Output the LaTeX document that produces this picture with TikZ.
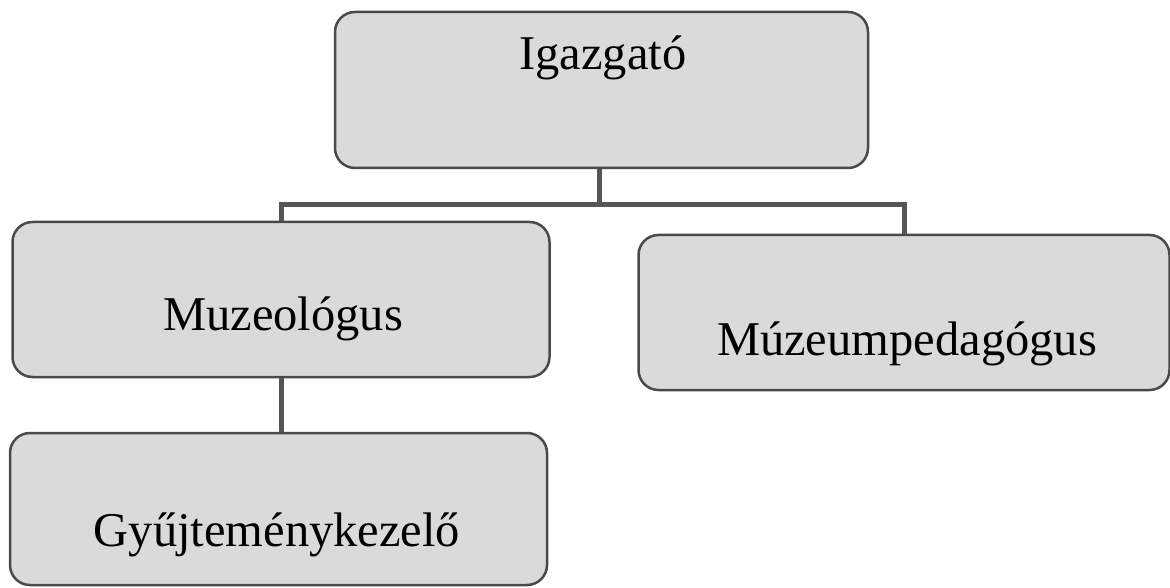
\documentclass[tikz,border=0pt]{standalone}
\usepackage{fontspec}
\setmainfont{Liberation Serif}
\definecolor{boxfill}{HTML}{DADADA}
\definecolor{boxline}{HTML}{4A4A4A}
\definecolor{conline}{HTML}{555555}
\begin{document}
\begin{tikzpicture}[x=1pt,y=-1pt,
  box/.style={draw=boxline, fill=boxfill, line width=2.5pt, rounded corners=20pt, inner sep=0pt},
  lbl/.style={anchor=base, inner sep=0pt, font=\fontsize{48.5}{52}\selectfont},
  con/.style={draw=conline, line width=5pt}]
\useasboundingbox (0,0) rectangle (1170,588);
\node[box, minimum width=533pt, minimum height=156pt] (ig) at (601.5,90) {};
\node[box, minimum width=537pt, minimum height=155pt] (mz) at (281,299.5) {};
\node[box, minimum width=531pt, minimum height=155pt] (mp) at (904,312.5) {};
\node[box, minimum width=537pt, minimum height=152pt] (gy) at (278.5,509) {};
\node[lbl] (tig) at (603,70) {Igazgató};
\node[lbl] (tmz) at (283,330) {Muzeológus};
\node[lbl] (tmp) at (907,355) {Múzeumpedagógus};
\node[lbl] (tgy) at (277,546) {Gyűjteménykezelő};
\coordinate (j) at (599,205);
\draw[con] (ig.south -| j) -- (j);
\draw[con] (j) -| (mz.north);
\draw[con] (j) -| (mp.north);
\draw[con] (mz.south) -- (mz.south |- gy.north);
\end{tikzpicture}
\end{document}
